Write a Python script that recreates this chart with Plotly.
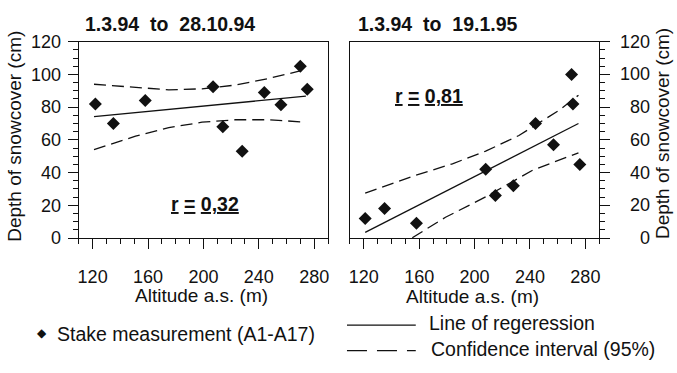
import plotly.graph_objects as go

# ---------------- data ----------------
left_alt = [122, 135, 158, 207, 214, 228, 244, 256, 270, 275]
left_depth = [82, 70, 84, 92.5, 68, 53, 89, 81.5, 105, 91]
left_reg_x = [121, 274]
left_reg_y = [74.2, 86.7]
left_ci_up_x = [121, 151, 175, 199, 223, 248, 273]
left_ci_up_y = [94, 91.9, 90.6, 91.2, 93.5, 97.7, 102.8]
left_ci_lo_x = [121, 151, 175, 199, 223, 248, 274]
left_ci_lo_y = [54, 62.3, 67.5, 70.8, 72.3, 72.3, 70.8]

right_alt = [121, 135, 158, 208, 215, 228, 244, 257, 270, 271, 276]
right_depth = [12, 18, 9, 42, 26, 32, 70, 57, 100, 82, 45]
right_reg_x = [121, 275]
right_reg_y = [3.5, 70]
right_ci_up_x = [121, 155, 184, 208, 232, 261, 275]
right_ci_up_y = [27.5, 37.7, 45.4, 53.1, 62.7, 78.1, 87.3]
right_ci_lo_x = [155, 179, 208, 242, 275]
right_ci_lo_y = [0.2, 12.7, 25.2, 41.5, 52.1]

panel_titles = ["1.3.94\u00a0\u00a0to\u00a0\u00a028.10.94", "1.3.94\u00a0\u00a0to\u00a0\u00a019.1.95"]
r_labels = ["0,32", "0,81"]
y_ticks = [0, 20, 40, 60, 80, 100, 120]
x_title = "Altitude a.s. (m)"
y_title = "Depth of snowcover (cm)"
legend_labels = ["Stake measurement (A1-A17)", "Line of regeression", "Confidence interval (95%)"]

W, H = 677, 373
FONT = "Liberation Sans, Arial, sans-serif"
INK = "#111111"

def px(x):
    return x / W

def py(y):
    return 1 - y / H

fig = go.Figure()

def add_panel(xa, ya, alt, depth, rx, ry, ux, uy, lx, ly):
    fig.add_trace(go.Scatter(x=rx, y=ry, mode="lines", xaxis=xa, yaxis=ya,
                             line=dict(color=INK, width=1.3), showlegend=False))
    for cx, cy in ((ux, uy), (lx, ly)):
        fig.add_trace(go.Scatter(x=cx, y=cy, mode="lines", xaxis=xa, yaxis=ya,
                                 line=dict(color=INK, width=1.3, dash="12px,6px"),
                                 showlegend=False))
    fig.add_trace(go.Scatter(x=alt, y=depth, mode="markers", xaxis=xa, yaxis=ya,
                             marker=dict(symbol="diamond", size=10, color=INK),
                             showlegend=False))

add_panel("x", "y", left_alt, left_depth, left_reg_x, left_reg_y,
          left_ci_up_x, left_ci_up_y, left_ci_lo_x, left_ci_lo_y)
add_panel("x2", "y2", right_alt, right_depth, right_reg_x, right_reg_y,
          right_ci_up_x, right_ci_up_y, right_ci_lo_x, right_ci_lo_y)

ydom = [py(241), py(33.5)]

def xaxis(domain, anchor):
    return dict(domain=domain, anchor=anchor, range=[110, 290],
                tickmode="linear", tick0=120, dtick=40,
                ticks="outside", ticklen=10, tickwidth=1.2, tickcolor=INK,
                minor=dict(tickmode="linear", tick0=110, dtick=10, ticks="outside",
                           ticklen=5, tickcolor=INK, showgrid=False),
                showline=True, linecolor=INK, linewidth=1.2, mirror=True,
                showgrid=False, zeroline=False, ticklabelstandoff=12,
                tickfont=dict(family=FONT, size=18, color=INK))

def yaxis(anchor, side, labels):
    return dict(domain=ydom, anchor=anchor, side=side, range=[0, 120],
                tickmode="linear", tick0=0, dtick=20,
                ticks="outside", ticklen=10, tickwidth=1.2, tickcolor=INK,
                minor=dict(tickmode="linear", tick0=0, dtick=5, ticks="outside",
                           ticklen=5, tickcolor=INK, showgrid=False),
                showline=True, linecolor=INK, linewidth=1.2, mirror=True,
                showgrid=False, zeroline=False, showticklabels=labels,
                ticklabelstandoff=3,
                tickfont=dict(family=FONT, size=18, color=INK))

annotations = []

def text(x, y, s, size=19.5, xanchor="center", angle=0, xref="paper", yref="paper"):
    annotations.append(dict(x=x, y=y, xref=xref, yref=yref, text=s, showarrow=False,
                            xanchor=xanchor, yanchor="middle", textangle=angle,
                            font=dict(family=FONT, size=size, color=INK)))

# panel titles
text(px(82), py(14.5), "<b>" + panel_titles[0] + "</b>", xanchor="left")
text(px(356), py(14.5), "<b>" + panel_titles[1] + "</b>", xanchor="left")
# r values
text(201, 21, "<b><u>r</u> <u>=</u> <u>" + r_labels[0] + "</u></b>", xref="x", yref="y")
text(167, 87, "<b><u>r</u> <u>=</u> <u>" + r_labels[1] + "</u></b>", xref="x2", yref="y2")
# axis titles
text(px(201), py(302), x_title, size=19)
text(px(473), py(303), x_title, size=19)
text(px(14), py(133), y_title, size=19, angle=-90)
text(px(664), py(131), y_title, size=19, angle=-90)
# right y tick labels (right aligned)
for v in y_ticks:
    annotations.append(dict(x=px(653), y=v, xref="paper", yref="y2", text=str(v),
                            showarrow=False, xanchor="right", yanchor="middle",
                            font=dict(family=FONT, size=18, color=INK)))
# legend
text(px(41), py(341), "\u25c6", size=12, xanchor="center")
text(px(54), py(342), legend_labels[0], xanchor="left")
text(px(427), py(331), legend_labels[1], xanchor="left")
text(px(429), py(358), legend_labels[2], xanchor="left")

shapes = [
    dict(type="line", xref="paper", yref="paper", x0=px(347), x1=px(416), y0=py(333), y1=py(333),
         line=dict(color=INK, width=1.3)),
    dict(type="line", xref="paper", yref="paper", x0=px(347), x1=px(416), y0=py(360), y1=py(360),
         line=dict(color=INK, width=1.3, dash="20px,10px")),
]

fig.update_layout(
    width=W, height=H, margin=dict(l=0, r=0, t=0, b=0),
    paper_bgcolor="white", plot_bgcolor="white", showlegend=False,
    xaxis=xaxis([px(78), px(328)], "y"),
    yaxis=yaxis("x", "left", True),
    xaxis2=xaxis([px(350), px(600)], "y2"),
    yaxis2=yaxis("x2", "right", False),
    annotations=annotations, shapes=shapes,
)

fig.write_html("out.html")
